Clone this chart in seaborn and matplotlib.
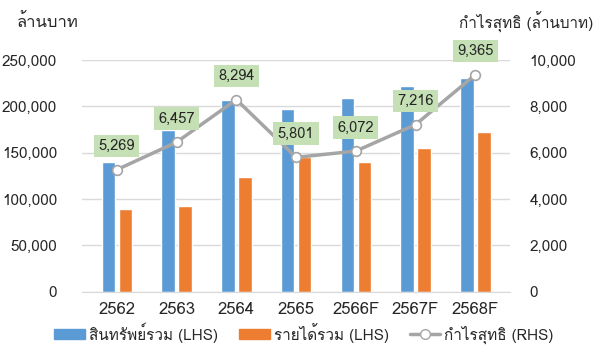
import numpy as np
import pandas as pd
import seaborn as sns
import matplotlib.pyplot as plt
from matplotlib import font_manager
from matplotlib.ft2font import FT2Font
from matplotlib.lines import Line2D
from matplotlib.patches import Patch

# ----------------------------
# DATA
# ----------------------------
years = ["2562", "2563", "2564", "2565", "2566F", "2567F", "2568F"]
total_assets = [140000, 175000, 207000, 197000, 209000, 222000, 231000]
total_revenue = [89000, 93000, 124000, 145000, 140000, 155500, 172000]
net_profit = [5269, 6457, 8294, 5801, 6072, 7216, 9365]

assets_label = "สินทรัพย์รวม (LHS)"
revenue_label = "รายได้รวม (LHS)"
profit_label = "กำไรสุทธิ (RHS)"

# ----------------------------
# FONT WITH THAI GLYPHS
# ----------------------------
thai_font = None
for f in font_manager.fontManager.ttflist:
    try:
        if ord("ก") in FT2Font(f.fname).get_charmap():
            thai_font = f.name
            break
    except Exception:
        pass

sns.set_style("white")
fams = [thai_font, "DejaVu Sans"] if thai_font else ["DejaVu Sans"]
plt.rcParams["font.family"] = fams

blue = "#5B9BD5"
orange = "#ED7D31"
gray = "#A5A5A5"

df = pd.DataFrame({"year": years * 2,
                   "value": total_assets + total_revenue,
                   "series": [assets_label] * len(years) + [revenue_label] * len(years)})

fig = plt.figure(figsize=(6.08, 3.47), dpi=100)
ax = fig.add_axes([0.135, 0.159, 0.704, 0.668])

sns.barplot(data=df, x="year", y="value", hue="series",
            palette=[blue, orange], saturation=1, width=0.57, gap=0.2,
            ax=ax, legend=False)

ax.set_ylim(0, 250000)
ax.set_yticks(np.arange(0, 250001, 50000))
ax.set_yticklabels([f"{v:,}" for v in range(0, 250001, 50000)], fontsize=11)
ax.yaxis.grid(True, color="#D9D9D9", linewidth=1)
ax.set_axisbelow(True)
ax.set_xlabel("")
ax.set_ylabel("")
ax.tick_params(axis="x", labelsize=12, length=0, pad=7)
ax.tick_params(axis="y", length=0, pad=18)
for s in ax.spines.values():
    s.set_visible(False)
ax.spines["bottom"].set_visible(True)
ax.spines["bottom"].set_color("#D9D9D9")

ax2 = ax.twinx()
sns.lineplot(x=np.arange(len(years)), y=net_profit, ax=ax2, color=gray,
             linewidth=2.5, marker="o", markersize=7,
             markerfacecolor="white", markeredgecolor=gray, markeredgewidth=1.2)
ax2.set_ylim(0, 10000)
ax2.set_yticks(np.arange(0, 10001, 2000))
ax2.set_yticklabels([f"{v:,}" for v in range(0, 10001, 2000)], fontsize=11)
ax2.tick_params(axis="y", length=0, pad=14)
for s in ax2.spines.values():
    s.set_visible(False)

for i, v in enumerate(net_profit):
    ax2.annotate(f"{v:,}", (i, v), xytext=(0, 12), textcoords="offset points",
                 ha="center", va="bottom", fontsize=10.5,
                 bbox=dict(boxstyle="square,pad=0.3", fc="#C5E0B4", ec="none"))

fig.text(0.027, 0.935, "ล้านบาท", fontsize=12, ha="left", va="center")
fig.text(0.975, 0.935, "กำไรสุทธิ (ล้านบาท)", fontsize=11, ha="right", va="center")

handles = [Patch(color=blue), Patch(color=orange),
           Line2D([], [], color=gray, linewidth=2.5, marker="o", markersize=7,
                  markerfacecolor="white", markeredgecolor=gray)]
fig.legend(handles, [assets_label, revenue_label, profit_label],
           loc="center", bbox_to_anchor=(0.5, 0.04), ncol=3, frameon=False,
           fontsize=11, handlelength=2.0, handleheight=0.65,
           columnspacing=1.4, handletextpad=0.25)

fig.savefig("out.png", dpi=100)
